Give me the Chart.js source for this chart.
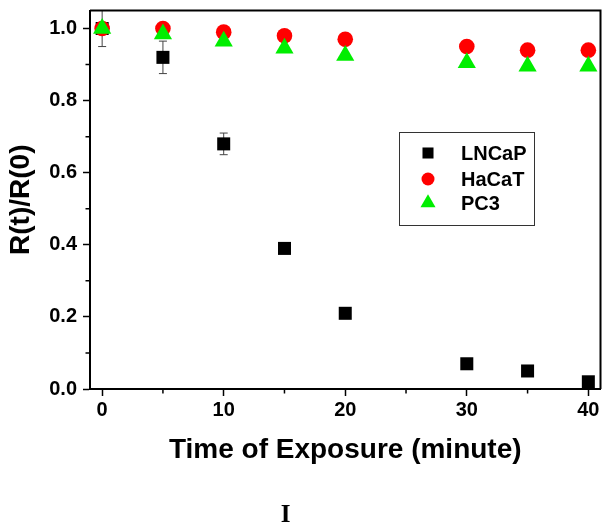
<!DOCTYPE html>
<html>
<head>
<meta charset="UTF-8">
<script src="https://cdn.jsdelivr.net/npm/chart.js@4.4.0/dist/chart.umd.min.js"></script>
<style>
*{margin:0;padding:0}
body{background:#fff;width:611px;height:528px;overflow:hidden}
.cw{position:relative;width:611px;height:528px}
</style>
</head>
<body>
<div class="cw"><canvas id="c"></canvas></div>
<script>
const times = [0, 5, 10, 15, 20, 30, 35, 40];
const lncap = [1.0, 0.92, 0.68, 0.39, 0.21, 0.07, 0.05, 0.02];
const lncapErr = [0.05, 0.045, 0.03, 0.012, 0, 0, 0, 0];
const hacat = [1.0, 1.0, 0.99, 0.98, 0.97, 0.95, 0.94, 0.94];
const pc3 = [1.0, 0.985, 0.965, 0.945, 0.925, 0.905, 0.895, 0.895];

const xTicks = [0, 10, 20, 30, 40];
const xMinor = [5, 15, 25, 35];
const yTicks = [0, 0.2, 0.4, 0.6, 0.8, 1.0];
const yMinor = [0.1, 0.3, 0.5, 0.7, 0.9];

const names = ["LNCaP", "HaCaT", "PC3"];
const styles = ["rect", "circle", "triangle"];
const colors = ["#000000", "#ff0000", "#00ee00"];
const radii = [9.2, 7.8, 10.5];

const pts = arr => arr.map((v, i) => ({ x: times[i], y: v }));
const series = [lncap, hacat, pc3];

const font = "'Liberation Sans', Arial, Helvetica, sans-serif";

// error bars, frame, minor ticks, legend, caption
const extras = {
  id: "extras",
  beforeDatasetsDraw(chart) {
    const { ctx, scales: { x, y } } = chart;
    ctx.save();
    ctx.strokeStyle = "#444";
    ctx.lineWidth = 1;
    lncap.forEach((v, i) => {
      const e = lncapErr[i];
      if (!e) return;
      const px = x.getPixelForValue(times[i]);
      const top = y.getPixelForValue(v + e), bot = y.getPixelForValue(v - e);
      ctx.beginPath();
      ctx.moveTo(px, top); ctx.lineTo(px, bot);
      ctx.moveTo(px - 4, top); ctx.lineTo(px + 4, top);
      ctx.moveTo(px - 4, bot); ctx.lineTo(px + 4, bot);
      ctx.stroke();
    });
    ctx.restore();
  },
  afterDraw(chart) {
    const { ctx, chartArea: a, scales: { x, y } } = chart;
    ctx.save();
    ctx.strokeStyle = "#000";
    ctx.lineWidth = 2;
    ctx.beginPath();
    ctx.moveTo(a.left, a.top); ctx.lineTo(a.right, a.top); ctx.lineTo(a.right, a.bottom);
    ctx.stroke();
    ctx.lineWidth = 1.5;
    ctx.beginPath();
    xMinor.forEach(v => {
      const px = x.getPixelForValue(v);
      ctx.moveTo(px, a.bottom); ctx.lineTo(px, a.bottom + 4.5);
    });
    yMinor.forEach(v => {
      const py = y.getPixelForValue(v);
      ctx.moveTo(a.left, py); ctx.lineTo(a.left - 4.5, py);
    });
    ctx.stroke();

    // legend box
    ctx.lineWidth = 1;
    ctx.strokeStyle = "#333";
    ctx.strokeRect(399.5, 132.5, 135, 93);
    const ly = [153, 179, 203];
    const lr = [7.8, 6.5, 8.7];
    ctx.font = "bold 20px " + font;
    ctx.textBaseline = "middle";
    ctx.textAlign = "left";
    names.forEach((n, i) => {
      ctx.fillStyle = colors[i];
      Chart.helpers.drawPoint(ctx, { pointStyle: styles[i], radius: lr[i], borderWidth: 0, rotation: 0 }, 428, ly[i]);
      ctx.fillStyle = "#000";
      ctx.fillText(n, 461, ly[i] + 1);
    });

    ctx.font = "bold 25px 'Liberation Serif', 'Times New Roman', serif";
    ctx.textAlign = "center";
    ctx.textBaseline = "alphabetic";
    ctx.fillText("I", 285.5, 522);
    ctx.restore();
  }
};

new Chart(document.getElementById("c"), {
  type: "scatter",
  data: {
    datasets: series.map((s, i) => ({
      label: names[i],
      data: pts(s),
      pointStyle: styles[i],
      pointRadius: radii[i],
      pointHoverRadius: radii[i],
      pointBorderWidth: 0,
      backgroundColor: colors[i],
      borderColor: colors[i],
      order: 3 - i,
      clip: false
    }))
  },
  options: {
    responsive: true, maintainAspectRatio: false, animation: false,
    layout: { padding: { top: 6, right: 7, left: 0, bottom: 0 } },
    plugins: { legend: { display: false }, tooltip: { enabled: false } },
    scales: {
      x: {
        type: "linear", min: -1, max: 41,
        afterBuildTicks: s => { s.ticks = xTicks.map(v => ({ value: v })); },
        afterFit: s => { s.height = 139; s.paddingLeft = 0; s.paddingRight = 0; },
        grid: { drawOnChartArea: false, drawTicks: true, tickLength: 7, tickColor: "#000", tickWidth: 1.5 },
        border: { display: true, color: "#000", width: 2 },
        ticks: { color: "#000", padding: 2, font: { family: font, size: 20, weight: "bold" }, callback: v => String(v) },
        title: { display: true, text: "Time of Exposure (minute)", color: "#000", font: { family: font, size: 28, weight: "bold" }, padding: { top: 0, bottom: 61 } }
      },
      y: {
        type: "linear", min: 0, max: 1.05,
        afterBuildTicks: s => { s.ticks = yTicks.map(v => ({ value: v })); },
        afterFit: s => { s.width = 90; s.paddingTop = 0; s.paddingBottom = 0; },
        grid: { drawOnChartArea: false, drawTicks: true, tickLength: 7, tickColor: "#000", tickWidth: 1.5 },
        border: { display: true, color: "#000", width: 2 },
        ticks: { color: "#000", padding: 6, font: { family: font, size: 20, weight: "bold" }, callback: v => v.toFixed(1) },
        title: { display: true, text: "R(t)/R(0)", color: "#000", font: { family: font, size: 28, weight: "bold" }, padding: { top: 4, bottom: 0 } }
      }
    }
  },
  plugins: [extras]
});
</script>
</body>
</html>
